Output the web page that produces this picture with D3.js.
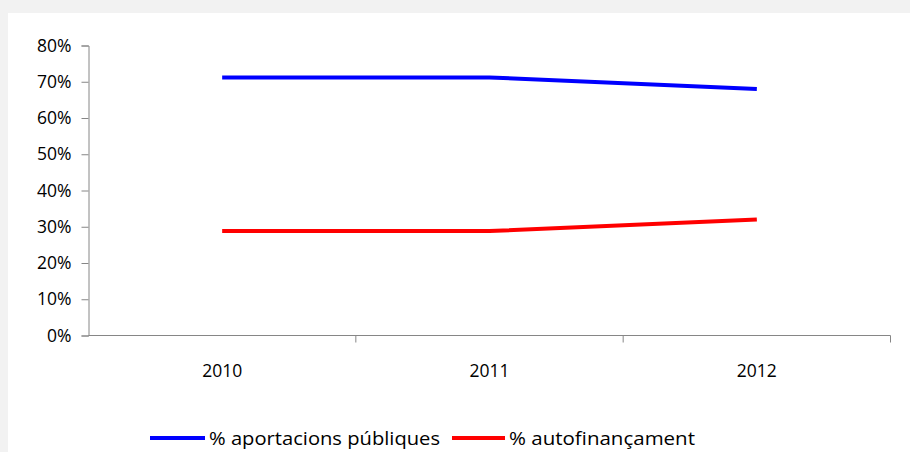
<!DOCTYPE html>
<html>
<head>
<meta charset="utf-8">
<script src="https://cdn.jsdelivr.net/npm/d3@7"></script>
<style>
  html, body { margin: 0; padding: 0; background: #f2f2f2; }
  svg { display: block; }
  text { font-family: "Open Sans", "Liberation Sans", sans-serif; fill: #000; }
</style>
</head>
<body>
<svg id="chart" width="910" height="452"></svg>
<script>
// Funding mix by year
const years = ["2010", "2011", "2012"];
const publicShare = [0.712, 0.712, 0.68];
const selfShare = [0.288, 0.288, 0.32];
const seriesNames = ["% aportacions públiques", "% autofinançament"];
const seriesColors = ["#0000ff", "#ff0000"];
const yTicks = [0, 0.1, 0.2, 0.3, 0.4, 0.5, 0.6, 0.7, 0.8];

const svg = d3.select("#chart");
const W = 910, H = 452;

svg.append("rect").attr("width", W).attr("height", H).attr("fill", "#f2f2f2");
svg.append("rect").attr("x", 8).attr("y", 13).attr("width", W - 8).attr("height", H - 13).attr("fill", "#fff");

const plot = { left: 88.5, right: 890.5, top: 45.5, bottom: 335.5 };

const x = d3.scaleBand().domain(years).range([plot.left, plot.right]);
const y = d3.scaleLinear().domain([0, 0.8]).range([plot.bottom, plot.top]);

const axisColor = "#868686";

// Y axis
const yAxis = svg.append("g")
  .attr("transform", `translate(${plot.left},0)`)
  .call(d3.axisLeft(y).tickValues(yTicks).tickSize(7).tickPadding(10).tickFormat(d3.format(".0%")));
yAxis.select(".domain").attr("stroke", axisColor);
yAxis.selectAll(".tick line").attr("stroke", axisColor);
yAxis.selectAll(".tick text").attr("font-size", 17.5).attr("font-family", "Open Sans").attr("fill", "#000");

// X axis with tick marks on category boundaries
const xAxisG = svg.append("g").attr("transform", `translate(0,${plot.bottom})`);
xAxisG.append("line").attr("x1", plot.left).attr("x2", plot.right).attr("stroke", axisColor);
const boundaries = years.map(d => x(d) + x.bandwidth());
xAxisG.selectAll(".bt").data(boundaries).join("line")
  .attr("x1", d => d).attr("x2", d => d).attr("y1", 0).attr("y2", 7).attr("stroke", axisColor);
xAxisG.selectAll(".xl").data(years).join("text")
  .attr("x", d => x(d) + x.bandwidth() / 2)
  .attr("y", 41)
  .attr("text-anchor", "middle")
  .attr("font-size", 17.5)
  .text(d => d);

// Lines
const line = d3.line().x((d, i) => x(years[i]) + x.bandwidth() / 2).y(d => y(d));
[publicShare, selfShare].forEach((vals, i) => {
  svg.append("path").datum(vals)
    .attr("d", line)
    .attr("fill", "none")
    .attr("stroke", seriesColors[i])
    .attr("stroke-width", 4)
    .attr("stroke-linejoin", "round");
});

// Legend
const legendY = 438;
const legendItems = [
  { x0: 150, x1: 205, tx: 209, tw: 231 },
  { x0: 452, x1: 505, tx: 509, tw: 186 }
];
legendItems.forEach((it, i) => {
  svg.append("line").attr("x1", it.x0).attr("x2", it.x1).attr("y1", legendY).attr("y2", legendY)
    .attr("stroke", seriesColors[i]).attr("stroke-width", 4);
  svg.append("text").attr("x", it.tx).attr("y", legendY + 7)
    .attr("font-size", 17.5)
    .attr("textLength", it.tw).attr("lengthAdjust", "spacingAndGlyphs")
    .text(seriesNames[i]);
});
</script>
</body>
</html>
